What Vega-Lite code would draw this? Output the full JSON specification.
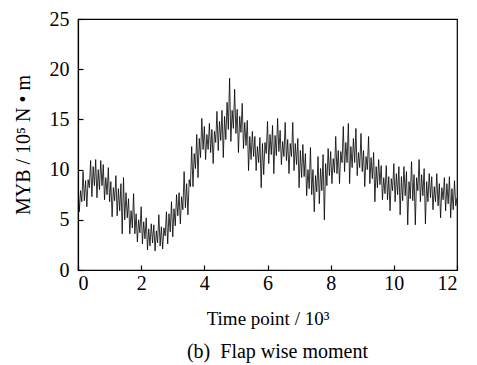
{
  "$schema": "https://vega.github.io/schema/vega-lite/v6.json",
  "autosize": "none",
  "width": 379,
  "height": 251,
  "padding": {"left": 78, "top": 19, "right": 20, "bottom": 95},
  "background": "white",
  "config": {
    "view": {"stroke": "#000", "strokeWidth": 1.2},
    "font": "Liberation Serif",
    "axis": {"labelFont": "Liberation Serif", "titleFont": "Liberation Serif", "labelColor": "#000", "titleColor": "#000", "domainColor": "#000", "tickColor": "#000", "grid": false, "labelFontSize": 20, "titleFontSize": 19, "titleFontWeight": "normal", "tickSize": -5, "domainWidth": 1.2, "tickWidth": 1.2}
  },
  "title": {"text": "(b)\u00a0\u00a0Flap wise moment", "orient": "bottom", "font": "Liberation Serif", "fontSize": 20, "fontWeight": "normal", "color": "#000", "offset": 14, "anchor": "middle", "dx": 10},
  "data": {"values": [
    {"t":0.00,"m":8.2},{"t":0.04,"m":5.8},{"t":0.08,"m":7.9},{"t":0.12,"m":6.8},{"t":0.16,"m":9.8},{"t":0.20,"m":6.9},{"t":0.24,"m":8.9},{"t":0.28,"m":6.3},{"t":0.32,"m":9.0},{"t":0.36,"m":8.2},
    {"t":0.40,"m":10.9},{"t":0.44,"m":7.3},{"t":0.48,"m":10.3},{"t":0.52,"m":8.4},{"t":0.56,"m":11.0},{"t":0.60,"m":7.2},{"t":0.64,"m":10.0},{"t":0.68,"m":8.0},{"t":0.72,"m":10.9},{"t":0.76,"m":8.4},
    {"t":0.80,"m":10.5},{"t":0.84,"m":7.0},{"t":0.88,"m":9.2},{"t":0.92,"m":7.5},{"t":0.96,"m":10.2},{"t":1.00,"m":6.8},{"t":1.04,"m":8.8},{"t":1.08,"m":5.3},{"t":1.12,"m":8.2},{"t":1.16,"m":6.9},
    {"t":1.20,"m":9.4},{"t":1.24,"m":5.4},{"t":1.28,"m":8.1},{"t":1.32,"m":5.9},{"t":1.36,"m":8.6},{"t":1.40,"m":3.6},{"t":1.44,"m":9.2},{"t":1.48,"m":5.0},{"t":1.52,"m":7.7},{"t":1.56,"m":5.2},
    {"t":1.60,"m":7.1},{"t":1.64,"m":3.6},{"t":1.68,"m":5.9},{"t":1.72,"m":4.2},{"t":1.76,"m":7.6},{"t":1.80,"m":3.6},{"t":1.84,"m":5.6},{"t":1.88,"m":2.8},{"t":1.92,"m":5.0},{"t":1.96,"m":3.7},
    {"t":2.00,"m":6.3},{"t":2.04,"m":2.6},{"t":2.08,"m":4.8},{"t":2.12,"m":3.1},{"t":2.16,"m":5.2},{"t":2.20,"m":2.0},{"t":2.24,"m":4.1},{"t":2.28,"m":2.4},{"t":2.32,"m":4.6},{"t":2.36,"m":2.7},
    {"t":2.40,"m":4.5},{"t":2.44,"m":1.9},{"t":2.48,"m":3.9},{"t":2.52,"m":2.7},{"t":2.56,"m":5.5},{"t":2.60,"m":2.4},{"t":2.64,"m":4.3},{"t":2.68,"m":2.1},{"t":2.72,"m":4.2},{"t":2.76,"m":3.4},
    {"t":2.80,"m":5.8},{"t":2.84,"m":2.6},{"t":2.88,"m":5.6},{"t":2.92,"m":3.8},{"t":2.96,"m":6.8},{"t":3.00,"m":3.3},{"t":3.04,"m":6.1},{"t":3.08,"m":4.4},{"t":3.12,"m":7.5},{"t":3.16,"m":5.4},
    {"t":3.20,"m":7.7},{"t":3.24,"m":4.6},{"t":3.28,"m":7.3},{"t":3.32,"m":6.0},{"t":3.36,"m":9.8},{"t":3.40,"m":6.2},{"t":3.44,"m":8.6},{"t":3.48,"m":5.5},{"t":3.52,"m":9.0},{"t":3.56,"m":8.3},
    {"t":3.60,"m":12.3},{"t":3.64,"m":8.3},{"t":3.68,"m":11.6},{"t":3.72,"m":10.1},{"t":3.76,"m":13.5},{"t":3.80,"m":9.2},{"t":3.84,"m":13.1},{"t":3.88,"m":11.2},{"t":3.92,"m":15.1},{"t":3.96,"m":12.0},
    {"t":4.00,"m":14.3},{"t":4.04,"m":11.0},{"t":4.08,"m":13.5},{"t":4.12,"m":12.0},{"t":4.16,"m":14.6},{"t":4.20,"m":11.7},{"t":4.24,"m":14.0},{"t":4.28,"m":10.6},{"t":4.32,"m":13.8},{"t":4.36,"m":12.7},
    {"t":4.40,"m":15.8},{"t":4.44,"m":11.9},{"t":4.48,"m":14.8},{"t":4.52,"m":12.9},{"t":4.56,"m":15.9},{"t":4.60,"m":11.2},{"t":4.64,"m":15.3},{"t":4.68,"m":13.0},{"t":4.72,"m":16.7},{"t":4.76,"m":14.0},
    {"t":4.80,"m":19.1},{"t":4.84,"m":12.8},{"t":4.88,"m":15.9},{"t":4.92,"m":14.1},{"t":4.96,"m":18.0},{"t":5.00,"m":13.6},{"t":5.04,"m":16.0},{"t":5.08,"m":11.7},{"t":5.12,"m":15.3},{"t":5.16,"m":13.7},
    {"t":5.20,"m":16.6},{"t":5.24,"m":12.1},{"t":5.28,"m":14.7},{"t":5.32,"m":12.4},{"t":5.36,"m":14.9},{"t":5.40,"m":9.9},{"t":5.44,"m":13.3},{"t":5.48,"m":11.0},{"t":5.52,"m":13.8},{"t":5.56,"m":11.3},
    {"t":5.60,"m":13.3},{"t":5.64,"m":9.9},{"t":5.68,"m":12.3},{"t":5.72,"m":10.7},{"t":5.76,"m":13.2},{"t":5.80,"m":8.2},{"t":5.84,"m":12.6},{"t":5.88,"m":9.5},{"t":5.92,"m":12.7},{"t":5.96,"m":11.6},
    {"t":6.00,"m":14.8},{"t":6.04,"m":10.6},{"t":6.08,"m":13.5},{"t":6.12,"m":11.5},{"t":6.16,"m":14.4},{"t":6.20,"m":9.6},{"t":6.24,"m":13.4},{"t":6.28,"m":11.4},{"t":6.32,"m":15.1},{"t":6.36,"m":11.8},
    {"t":6.40,"m":13.9},{"t":6.44,"m":10.5},{"t":6.48,"m":12.8},{"t":6.52,"m":11.3},{"t":6.56,"m":14.7},{"t":6.60,"m":10.9},{"t":6.64,"m":13.0},{"t":6.68,"m":9.6},{"t":6.72,"m":12.6},{"t":6.76,"m":11.3},
    {"t":6.80,"m":14.7},{"t":6.84,"m":9.9},{"t":6.88,"m":12.6},{"t":6.92,"m":10.5},{"t":6.96,"m":13.1},{"t":7.00,"m":8.2},{"t":7.04,"m":11.9},{"t":7.08,"m":9.2},{"t":7.12,"m":12.5},{"t":7.16,"m":9.3},
    {"t":7.20,"m":11.6},{"t":7.24,"m":7.4},{"t":7.28,"m":10.0},{"t":7.32,"m":8.1},{"t":7.36,"m":12.2},{"t":7.40,"m":7.5},{"t":7.44,"m":10.0},{"t":7.48,"m":5.8},{"t":7.52,"m":9.4},{"t":7.56,"m":7.8},
    {"t":7.60,"m":11.3},{"t":7.64,"m":6.6},{"t":7.68,"m":10.1},{"t":7.72,"m":7.9},{"t":7.76,"m":11.5},{"t":7.80,"m":5.0},{"t":7.84,"m":10.6},{"t":7.88,"m":8.4},{"t":7.92,"m":12.1},{"t":7.96,"m":9.4},
    {"t":8.00,"m":11.8},{"t":8.04,"m":8.6},{"t":8.08,"m":11.1},{"t":8.12,"m":9.7},{"t":8.16,"m":13.3},{"t":8.20,"m":9.6},{"t":8.24,"m":11.9},{"t":8.28,"m":8.6},{"t":8.32,"m":11.8},{"t":8.36,"m":10.7},
    {"t":8.40,"m":14.3},{"t":8.44,"m":9.8},{"t":8.48,"m":12.7},{"t":8.52,"m":10.7},{"t":8.56,"m":14.6},{"t":8.60,"m":8.6},{"t":8.64,"m":12.3},{"t":8.68,"m":10.2},{"t":8.72,"m":13.1},{"t":8.76,"m":10.7},
    {"t":8.80,"m":14.1},{"t":8.84,"m":9.4},{"t":8.88,"m":11.7},{"t":8.92,"m":10.2},{"t":8.96,"m":13.6},{"t":9.00,"m":9.8},{"t":9.04,"m":11.9},{"t":9.08,"m":8.3},{"t":9.12,"m":11.3},{"t":9.16,"m":10.0},
    {"t":9.20,"m":13.3},{"t":9.24,"m":8.6},{"t":9.28,"m":11.2},{"t":9.32,"m":9.1},{"t":9.36,"m":11.7},{"t":9.40,"m":6.8},{"t":9.44,"m":10.3},{"t":9.48,"m":8.2},{"t":9.52,"m":11.0},{"t":9.56,"m":8.5},
    {"t":9.60,"m":10.4},{"t":9.64,"m":7.0},{"t":9.68,"m":9.2},{"t":9.72,"m":7.6},{"t":9.76,"m":10.4},{"t":9.80,"m":7.0},{"t":9.84,"m":9.3},{"t":9.88,"m":5.9},{"t":9.92,"m":9.1},{"t":9.96,"m":7.9},
    {"t":10.00,"m":10.6},{"t":10.04,"m":6.8},{"t":10.08,"m":9.6},{"t":10.12,"m":7.5},{"t":10.16,"m":10.3},{"t":10.20,"m":5.5},{"t":10.24,"m":9.3},{"t":10.28,"m":6.9},{"t":10.32,"m":10.3},{"t":10.36,"m":7.4},
    {"t":10.40,"m":9.8},{"t":10.44,"m":4.5},{"t":10.48,"m":8.8},{"t":10.52,"m":7.1},{"t":10.56,"m":10.8},{"t":10.60,"m":6.9},{"t":10.64,"m":9.5},{"t":10.68,"m":4.5},{"t":10.72,"m":9.2},{"t":10.76,"m":7.9},
    {"t":10.80,"m":11.0},{"t":10.84,"m":6.8},{"t":10.88,"m":9.5},{"t":10.92,"m":7.4},{"t":10.96,"m":10.1},{"t":11.00,"m":4.6},{"t":11.04,"m":8.8},{"t":11.08,"m":6.8},{"t":11.12,"m":9.6},{"t":11.16,"m":7.2},
    {"t":11.20,"m":9.3},{"t":11.24,"m":6.0},{"t":11.28,"m":8.3},{"t":11.32,"m":6.8},{"t":11.36,"m":9.6},{"t":11.40,"m":6.4},{"t":11.44,"m":8.6},{"t":11.48,"m":5.2},{"t":11.52,"m":8.2},{"t":11.56,"m":7.0},
    {"t":11.60,"m":9.2},{"t":11.64,"m":5.9},{"t":11.68,"m":8.6},{"t":11.72,"m":6.6},{"t":11.76,"m":9.3},{"t":11.80,"m":5.2},{"t":11.84,"m":8.1},{"t":11.88,"m":6.0},{"t":11.92,"m":8.9},{"t":11.96,"m":6.4},
    {"t":12.00,"m":7.2}
  ]},
  "mark": {"type": "line", "color": "#000", "strokeWidth": 0.8, "clip": true},
  "encoding": {
    "x": {"field": "t", "type": "quantitative", "scale": {"domain": [0, 12], "nice": false}, "axis": {"values": [0, 2, 4, 6, 8, 10, 12], "title": "Time point / 10³", "labelPadding": 8, "titlePadding": 16}},
    "y": {"field": "m", "type": "quantitative", "scale": {"domain": [0, 25], "nice": false}, "axis": {"values": [0, 5, 10, 15, 20, 25], "title": "MYB / 10⁵ N • m", "titleFontSize": 20, "labelPadding": 14, "titlePadding": 16}}
  }
}
